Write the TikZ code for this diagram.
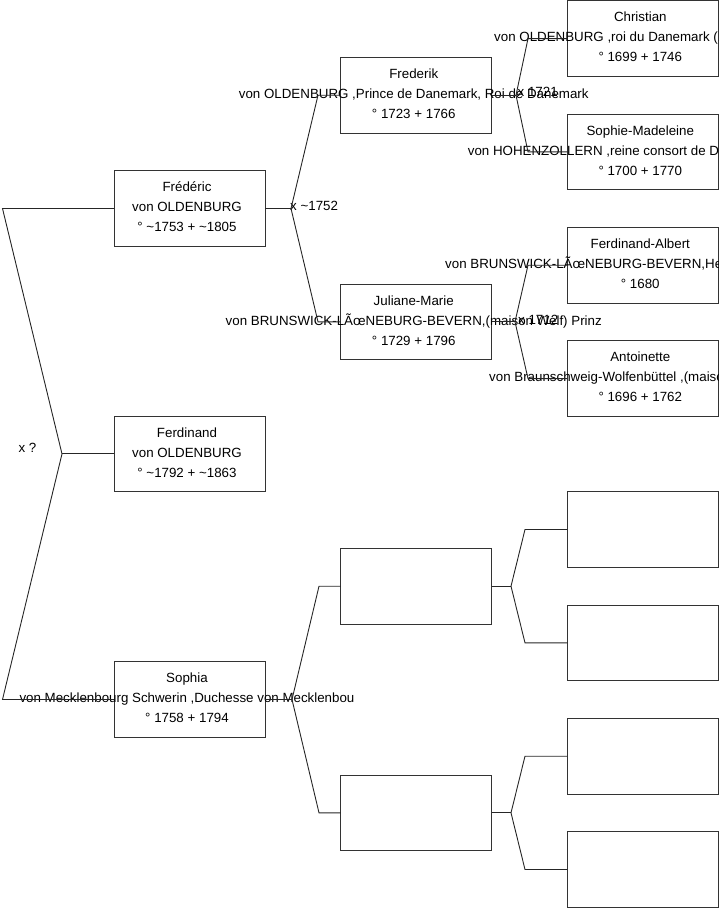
\documentclass[tikz,border=0pt]{standalone}
\usepackage{fontspec}
\setmainfont{Liberation Sans}
\newcommand\fsz{\fontsize{13.33}{16}\selectfont}
\begin{document}
\begin{tikzpicture}[x=1pt,y=-1pt,
  pbox/.style={draw=black!80, line width=0.9pt, minimum width=151pt, minimum height=75.5pt, inner sep=0pt, outer sep=0pt},
  txt/.style={font=\fsz, anchor=base, inner sep=0pt, text=black},
  wtxt/.style={font=\fsz, anchor=base west, inner sep=0pt, text=black},
  conn/.style={draw=black!85, line width=0.9pt}]
\useasboundingbox (0,0) rectangle (719,908);
\clip (0,0) rectangle (719,908);
% boxes
\node[pbox] (fred) at (189.5,208.5) {};
\node[pbox] (ferd) at (189.5,453.9) {};
\node[pbox] (soph) at (189.5,699.5) {};
\node[pbox] (frk) at (416.25,95.2) {};
\node[pbox] (jul) at (416.25,321.8) {};
\node[pbox] (e1) at (416.25,586.2) {};
\node[pbox] (e2) at (416.25,812.8) {};
\node[pbox] (chr) at (642.8,38.6) {};
\node[pbox] (smd) at (642.8,151.9) {};
\node[pbox] (fa) at (642.8,265.2) {};
\node[pbox] (ant) at (642.8,378.6) {};
\node[pbox] (e3) at (642.8,529.5) {};
\node[pbox] (e4) at (642.8,642.8) {};
\node[pbox] (e5) at (642.8,756.2) {};
\node[pbox] (e6) at (642.8,869.5) {};
% texts
\node[txt] (fredA) at (187,191.8) {Frédéric};
\node[txt] (fredB) at (187,211.8) {von OLDENBURG};
\node[txt] (fredC) at (187,231.8) {° \textasciitilde1753 + \textasciitilde1805};
\node[txt] (ferdA) at (187,437.2) {Ferdinand};
\node[txt] (ferdB) at (187,457.2) {von OLDENBURG};
\node[txt] (ferdC) at (187,477.2) {° \textasciitilde1792 + \textasciitilde1863};
\node[txt] (sophA) at (187,682.8) {Sophia};
\node[txt] (sophB) at (187,702.8) {von Mecklenbourg Schwerin ,Duchesse von Mecklenbou};
\node[txt] (sophC) at (187,722.8) {° 1758 + 1794};
\node[txt] (frkA) at (413.75,78.5) {Frederik};
\node[txt] (frkB) at (413.75,98.5) {von OLDENBURG ,Prince de Danemark, Roi de Danemark};
\node[txt] (frkC) at (413.75,118.5) {° 1723 + 1766};
\node[txt] (julA) at (413.75,305.1) {Juliane-Marie};
\node[txt] (julB) at (413.75,325.1) {von BRUNSWICK-LÃœNEBURG-BEVERN,(maison Welf) Prinz};
\node[txt] (julC) at (413.75,345.1) {° 1729 + 1796};
\node[txt] (chrA) at (640.3,21.9) {Christian};
\node[wtxt] (chrB) at (494,41.9) {von OLDENBURG ,roi du Danemark (1730-1746)};
\node[txt] (chrC) at (640.3,61.9) {° 1699 + 1746};
\node[txt] (smdA) at (640.3,135.2) {Sophie-Madeleine};
\node[wtxt] (smdB) at (467.7,155.2) {von HOHENZOLLERN ,reine consort de Danemark};
\node[txt] (smdC) at (640.3,175.2) {° 1700 + 1770};
\node[txt] (faA) at (640.3,248.5) {Ferdinand-Albert};
\node[wtxt] (faB) at (445,268.5) {von BRUNSWICK-LÃœNEBURG-BEVERN,Herzog};
\node[txt] (faC) at (640.3,288.5) {° 1680};
\node[txt] (antA) at (640.3,361.9) {Antoinette};
\node[wtxt] (antB) at (489,381.9) {von Braunschweig-Wolfenbüttel ,(maison};
\node[txt] (antC) at (640.3,401.9) {° 1696 + 1762};
% marriage labels
\node[wtxt] (m0) at (18.3,452.5) {x ?};
\node[wtxt] (m1) at (290,210.5) {x \textasciitilde1752};
\node[wtxt] (m3) at (517.5,96.5) {x 1721};
\node[wtxt] (m4) at (518,324.8) {x 1712};
% connector points
\coordinate (v0) at (62,453.9);
\coordinate (c0a) at (2.5,208.5);
\coordinate (c0b) at (2.5,699.5);
\coordinate (v1) at (291,208.5);
\coordinate (c1a) at (318,95.2);
\coordinate (c1b) at (318,321.8);
\coordinate (v2) at (292,699.5);
\coordinate (c2a) at (319,586.2);
\coordinate (c2b) at (319,812.8);
\coordinate (v3) at (516,95.2);
\coordinate (c3a) at (528,38.6);
\coordinate (c3b) at (528,151.9);
\coordinate (v4) at (515,321.8);
\coordinate (c4a) at (528,265.2);
\coordinate (c4b) at (528,378.6);
\coordinate (v5) at (511,586.2);
\coordinate (c5a) at (525,529.5);
\coordinate (c5b) at (525,642.8);
\coordinate (v6) at (511,812.8);
\coordinate (c6a) at (525,756.2);
\coordinate (c6b) at (525,869.5);
% connectors
\draw[conn] (ferd.west) -- (v0);
\draw[conn] (fred.west) -- (c0a) -- (v0) -- (c0b) -- (soph.west);
\draw[conn] (fred.east) -- (v1);
\draw[conn] (frk.west) -- (c1a) -- (v1) -- (c1b) -- (jul.west);
\draw[conn] (soph.east) -- (v2);
\draw[conn] (e1.west) -- (c2a) -- (v2) -- (c2b) -- (e2.west);
\draw[conn] (frk.east) -- (v3);
\draw[conn] (chr.west) -- (c3a) -- (v3) -- (c3b) -- (smd.west);
\draw[conn] (jul.east) -- (v4);
\draw[conn] (fa.west) -- (c4a) -- (v4) -- (c4b) -- (ant.west);
\draw[conn] (e1.east) -- (v5);
\draw[conn] (e3.west) -- (c5a) -- (v5) -- (c5b) -- (e4.west);
\draw[conn] (e2.east) -- (v6);
\draw[conn] (e5.west) -- (c6a) -- (v6) -- (c6b) -- (e6.west);
\end{tikzpicture}
\end{document}
